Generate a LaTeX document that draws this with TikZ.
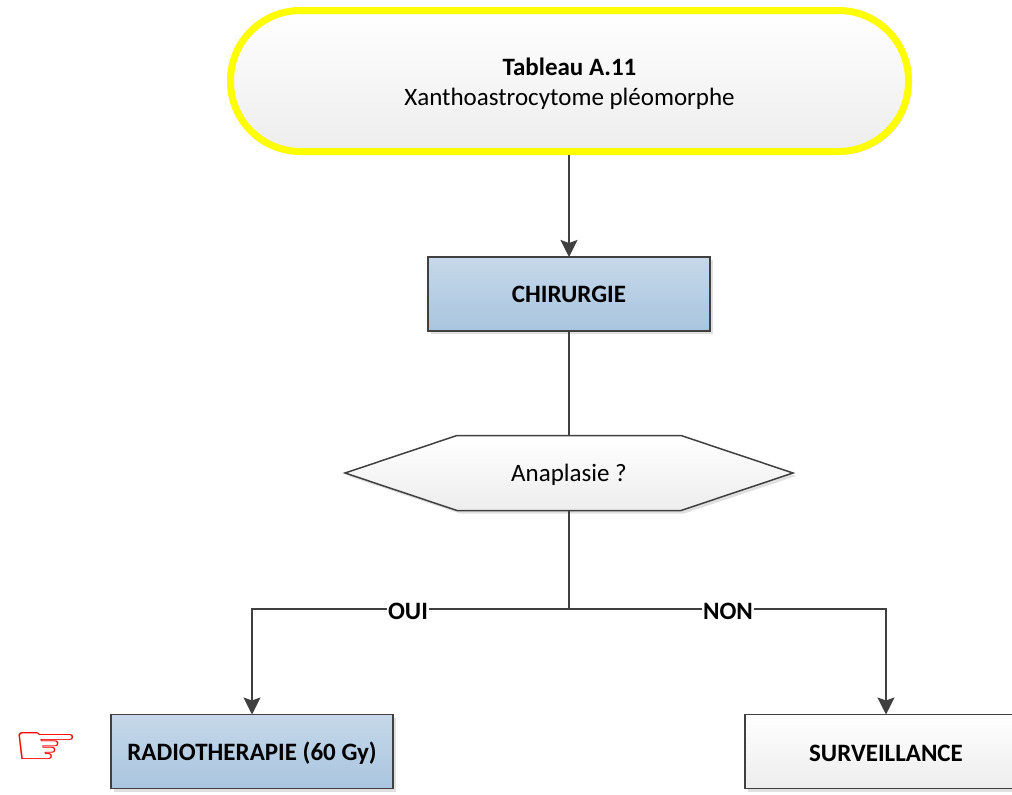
\documentclass[tikz,border=0pt]{standalone}
\usepackage{fontspec}
\setmainfont{Carlito}
\newfontfamily\symfont{DejaVu Sans}
\usetikzlibrary{arrows.meta,shadows,calc}
\definecolor{linec}{HTML}{404040}
\definecolor{blueT}{HTML}{C6D8E9}
\definecolor{blueB}{HTML}{A9C5DF}
\definecolor{greyB}{HTML}{EDEDED}
\definecolor{pureyellow}{HTML}{FFFF00}
\definecolor{purered}{HTML}{FF0000}
\newcommand{\lowered}[2]{\raisebox{-#1pt}[\height][\depth]{#2}}
\tikzset{
  softshadow/.style={drop shadow={shadow xshift=3pt,shadow yshift=-3pt,fill=black,opacity=0.12}},
  flowbox/.style={draw=linec,line width=1.5pt,minimum width=282pt,minimum height=74pt,outer sep=0pt,inner sep=0pt,softshadow,font=\fontsize{25}{30}\selectfont\bfseries,text=black},
  bluebox/.style={flowbox,top color=blueT,bottom color=blueB},
  whitebox/.style={flowbox,top color=white,bottom color=greyB},
  startnode/.style={draw=pureyellow,line width=7pt,rounded corners=70pt,minimum width=678pt,minimum height=141pt,top color=white,bottom color=greyB,outer sep=3.5pt,softshadow,align=center,text=black,font=\fontsize{25}{30}\selectfont},
  hexanchor/.style={minimum width=448pt,minimum height=75pt,inner sep=0pt,outer sep=0pt,text=black,font=\fontsize{25}{30}\selectfont},
  hexshape/.style={draw=linec,line width=1.5pt,top color=white,bottom color=greyB,softshadow},
  conn/.style={draw=linec,line width=2.2pt},
  connarrow/.style={conn,-{Stealth[length=17pt,width=17pt,inset=3pt]}},
  edgelabel/.style={fill=white,inner sep=1pt,text=black,font=\fontsize{25}{30}\selectfont\bfseries},
  handnode/.style={text=purered,inner sep=0pt,xscale=1.3,font=\symfont\fontsize{58}{58}\selectfont}
}
\begin{document}
\begin{tikzpicture}[x=1pt,y=-1pt]
\useasboundingbox (0,0) rectangle (1012,795);
\clip (0,0) rectangle (1012,795);
\node[startnode] (start) at (569.5,81) {\lowered{3}{\textbf{Tableau A.11}}\\\lowered{3}{Xanthoastrocytome pléomorphe}};
\node[bluebox] (chir) at (569,294) {CHIRURGIE};
\path[hexshape] (345,473) -- (457,435.5) -- (681,435.5) -- (793,473) -- (681,510.5) -- (457,510.5) -- cycle;
\node[hexanchor] (hex) at (569,473) {\lowered{2}{Anaplasie ?}};
\node[bluebox] (radio) at (252,751.5) {\lowered{2}{RADIOTHERAPIE (60 Gy)}};
\node[whitebox] (surv) at (886,751.5) {\lowered{2}{SURVEILLANCE}};
\coordinate (junction) at (hex.south |- 0,609);
\coordinate (leftturn) at (radio.north |- junction);
\coordinate (rightturn) at (surv.north |- junction);
\draw[connarrow] (start.south -| chir.north) -- (chir.north);
\draw[conn] (chir.south) -- (hex.north);
\draw[conn] (hex.south) -- (junction);
\draw[connarrow] (junction) -- (leftturn) -- (radio.north);
\draw[connarrow] (junction) -- (rightturn) -- (surv.north);
\node[edgelabel] (oui) at (408,611) {OUI};
\node[edgelabel] (non) at (728,611) {NON};
\node[handnode] (hand) at (46,749) {☞};
\end{tikzpicture}
\end{document}
